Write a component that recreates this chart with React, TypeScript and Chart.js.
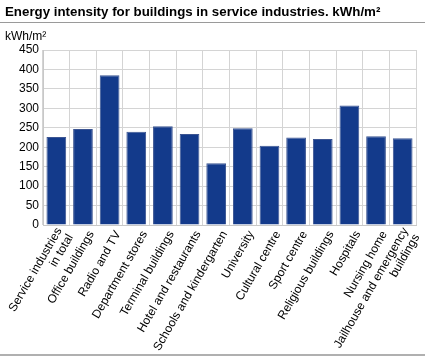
import React, { useEffect, useRef } from "react";
import { Chart, registerables } from "chart.js";

Chart.register(...registerables);

const categories: (string | string[])[] = [
  ["Service industries", "in total"],
  "Office buildings",
  "Radio and TV",
  "Department stores",
  "Terminal buildings",
  "Hotel and restaurants",
  "Schools and kindergarten",
  "University",
  "Cultural centre",
  "Sport centre",
  "Religious buildings",
  "Hospitals",
  "Nursing home",
  ["Jailhouse and emergency", "buildings"],
];

const values: number[] = [226, 247, 385, 240, 254, 234, 159, 249, 204, 225, 221, 307, 228, 223];

const title = "Energy intensity for buildings in service industries. kWh/m²";
const unitLabel = "kWh/m²";

const FONT = "Liberation Sans, Arial, sans-serif";
const LABEL_ROTATION = 60;

const rotatedLabels = {
  id: "rotatedLabels",
  afterDraw(chart: any) {
    const xs = chart.scales.x;
    const ctx = chart.ctx;
    const lh = 13;
    ctx.save();
    ctx.font = `12px ${FONT}`;
    ctx.fillStyle = "#000";
    ctx.textAlign = "right";
    ctx.textBaseline = "middle";
    const labels = chart.data.labels as (string | string[])[];
    labels.forEach((lab, i) => {
      const lines = Array.isArray(lab) ? lab : [lab];
      const n = lines.length;
      const px = xs.getPixelForTick(i);
      ctx.save();
      ctx.translate(px + 8.5, xs.top + 7);
      ctx.rotate((-LABEL_ROTATION * Math.PI) / 180);
      lines.forEach((l, j) => ctx.fillText(l, 0, (j - (n - 1) / 2) * lh));
      ctx.restore();
    });
    ctx.restore();
  },
};

export default function App() {
  const ref = useRef<HTMLCanvasElement | null>(null);

  useEffect(() => {
    document.body.style.margin = "0";
    if (!ref.current) return;
    const chart = new Chart(ref.current, {
      type: "bar",
      data: {
        labels: categories,
        datasets: [
          {
            data: values,
            backgroundColor: "#133a8b",
            borderColor: "#3c5592",
            borderWidth: 1,
            barPercentage: 0.74,
            categoryPercentage: 1,
          },
        ],
      },
      options: {
        animation: false,
        responsive: false,
        maintainAspectRatio: false,
        layout: { padding: { left: 0, right: 9, top: 50, bottom: 0 } },
        plugins: { legend: { display: false }, title: { display: false }, tooltip: { enabled: false } },
        scales: {
          x: {
            grid: { color: "#d4d4d4", lineWidth: 1, offset: true, drawTicks: false },
            border: { color: "#c8c8c8" },
            afterFit: (scale: any) => {
              scale.height = 135;
            },
            ticks: { display: false, autoSkip: false },
          },
          y: {
            min: 0,
            max: 450,
            grid: { color: "#d4d4d4", lineWidth: 1, drawTicks: false },
            border: { color: "#c8c8c8" },
            afterFit: (scale: any) => {
              scale.width = 43;
            },
            ticks: {
              stepSize: 50,
              color: "#000",
              font: { family: FONT, size: 12 },
              padding: 4,
            },
          },
        },
      },
      plugins: [rotatedLabels],
    });
    return () => chart.destroy();
  }, []);

  return (
    <div style={{ position: "relative", width: 425, height: 360, background: "#fff", fontFamily: FONT }}>
      <canvas ref={ref} width={425} height={360} style={{ position: "absolute", left: 0, top: 0, width: 425, height: 360 }} />
      <div style={{ position: "absolute", left: 5, top: 4, fontSize: 13.3, fontWeight: "bold", color: "#000", whiteSpace: "nowrap" }}>
        {title}
      </div>
      <div style={{ position: "absolute", left: 0, top: 22, width: 425, height: 1, background: "#9a9a9a" }} />
      <div style={{ position: "absolute", left: 5, top: 29, fontSize: 12, color: "#000" }}>{unitLabel}</div>
      <div style={{ position: "absolute", left: 0, top: 354, width: 425, height: 2, background: "#b0b0b0" }} />
    </div>
  );
}
